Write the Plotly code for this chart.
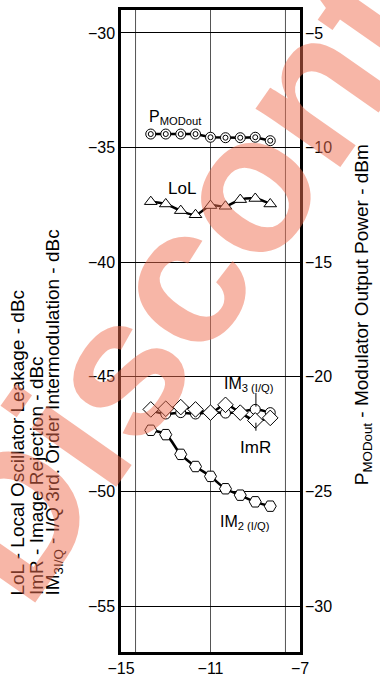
import plotly.graph_objs as go

# Datos
x_dbm = [-13.67, -13.0, -12.33, -11.67, -11.0, -10.33, -9.67, -9.0, -8.33]
p_modout = [-9.41, -9.41, -9.41, -9.41, -9.55, -9.57, -9.57, -9.55, -9.70]
lol = [-37.36, -37.46, -37.75, -37.93, -37.53, -37.56, -37.27, -37.22, -37.46]
im3 = [-46.46, -46.62, -46.56, -46.62, -46.53, -46.58, -46.53, -46.42, -46.56]
imr = [-46.42, -46.39, -46.32, -46.42, -46.56, -46.22, -46.56, -46.90, -46.79]
im2 = [-47.33, -47.52, -48.38, -48.91, -49.34, -49.88, -50.16, -50.45, -50.64]

left_ticks = [-30, -35, -40, -45, -50, -55]
right_ticks = [-5, -10, -15, -20, -25, -30]
x_ticks = [-15, -11, -7]

FONT = "Arial, Liberation Sans, sans-serif"
mk = dict(color="white", line=dict(color="black", width=1))

data = []
data.append(go.Scatter(x=x_dbm, y=lol, mode="lines+markers",
                       line=dict(color="black", width=2.5, shape="spline"),
                       marker=dict(symbol="triangle-up", size=11, **mk)))
data.append(go.Scatter(x=x_dbm, y=im2, mode="lines+markers",
                       line=dict(color="black", width=2.5, shape="spline"),
                       marker=dict(symbol="hexagon2", size=12, **mk)))
data.append(go.Scatter(x=x_dbm, y=im3, mode="lines+markers",
                       line=dict(color="black", width=2.5, shape="spline"),
                       marker=dict(symbol="circle", size=10, **mk)))
data.append(go.Scatter(x=x_dbm, y=imr, mode="lines+markers",
                       line=dict(color="black", width=2.5, shape="spline"),
                       marker=dict(symbol="diamond", size=12, **mk)))
# P_MODout en el eje derecho: círculo doble
data.append(go.Scatter(x=x_dbm, y=p_modout, yaxis="y2", mode="lines+markers",
                       line=dict(color="black", width=2.5),
                       marker=dict(symbol="circle", size=10, **mk)))
data.append(go.Scatter(x=x_dbm, y=p_modout, yaxis="y2", mode="markers",
                       marker=dict(symbol="circle", size=5, **mk)))

shapes = []
for xv in [-14.35, -11, -7.65]:
    shapes.append(dict(type="line", xref="x", yref="paper", x0=xv, x1=xv, y0=0, y1=1,
                       line=dict(color="#555555", width=1), layer="below"))
# líneas indicadoras de etiquetas
shapes.append(dict(type="line", xref="x", yref="y", x0=-8.97, x1=-8.97, y0=-45.7, y1=-46.3,
                   line=dict(color="black", width=1)))
shapes.append(dict(type="line", xref="x", yref="y", x0=-8.97, x1=-8.97, y0=-47.0, y1=-47.35,
                   line=dict(color="black", width=1)))

ann = []
def lab(txt, x, y, size=16):
    ann.append(dict(text=txt, x=x, y=y, xref="x", yref="y", showarrow=False,
                    font=dict(family=FONT, size=size, color="black")))

lab("P<sub>MODout</sub>", -12.55, -33.7)
lab("LoL", -12.27, -36.8, 17)
lab("IM<sub>3 (I/Q)</sub>", -9.3, -45.35)
lab("ImR", -9.0, -48.08, 17)
lab("IM<sub>2 (I/Q)</sub>", -9.45, -51.37)

# títulos de ejes (una anotación por línea)
left_title = ["LoL - Local Oscillator Leakage - dBc",
              "ImR - Image Rejection - dBc",
              "IM<sub>3I/Q</sub> - I/Q 3rd. Order Intermodulation - dBc"]
for i, t in enumerate(left_title):
    ann.append(dict(text=t, xref="paper", yref="paper", x=(18 + 18 * i - 121) / 179,
                    y=1 - (600 - 7) / 648, xanchor="center", yanchor="bottom",
                    textangle=-90, showarrow=False,
                    font=dict(family=FONT, size=19, color="black")))
ann.append(dict(text="P<sub>MODout</sub> - Modulator Output Power - dBm",
                xref="paper", yref="paper", x=(363 - 121) / 179, y=1 - (315 - 7) / 648,
                xanchor="center", yanchor="middle",
                textangle=-90, showarrow=False,
                font=dict(family=FONT, size=19, color="black")))
# marca de agua
ann.append(dict(text="<b>Discontinued</b>", xref="paper", yref="paper", x=1.15, y=0.909,
                xanchor="center", yanchor="middle", textangle=-55, showarrow=False,
                font=dict(family=FONT, size=195, color="rgba(240,110,80,0.5)")))

layout = go.Layout(
    width=380, height=684, showlegend=False,
    plot_bgcolor="white", paper_bgcolor="white",
    margin=dict(l=121, r=80, t=7, b=29),
    xaxis=dict(range=[-15, -7], tickvals=x_ticks, showgrid=False, zeroline=False,
               showline=True, mirror=True, linecolor="black", linewidth=2.5,
               ticks="", tickfont=dict(family=FONT, size=16, color="black")),
    yaxis=dict(range=[-57, -29], tickvals=left_ticks, showgrid=True, gridcolor="black",
               gridwidth=1.2, zeroline=False, showline=True, mirror=True,
               linecolor="black", linewidth=2.5, ticks="",
               tickfont=dict(family=FONT, size=16, color="black")),
    yaxis2=dict(range=[-32, -4], tickvals=right_ticks, overlaying="y", side="right",
                showgrid=False, zeroline=False, showline=False, ticks="",
                ticklabelstandoff=4,
                tickfont=dict(family=FONT, size=16, color="black")),
    shapes=shapes, annotations=ann,
)

fig = go.Figure(data=data, layout=layout)
fig.write_html("out.html", config={"displayModeBar": False},
               post_script="document.body.style.margin='0px';")
